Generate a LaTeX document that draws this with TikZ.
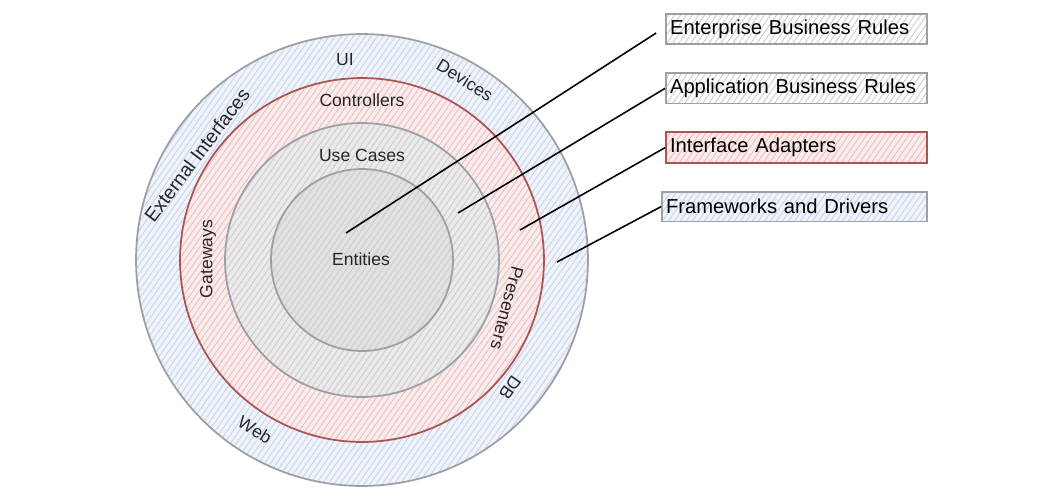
\documentclass[tikz,border=0pt]{standalone}
\usepackage{fontspec}
\setmainfont{Liberation Sans}
\usetikzlibrary{positioning,patterns.meta}
\definecolor{ringBlue}{RGB}{240,244,250}
\definecolor{hatchBlue}{RGB}{196,210,234}
\definecolor{ringRed}{RGB}{250,236,236}
\definecolor{hatchRed}{RGB}{236,188,188}
\definecolor{ringGray}{RGB}{236,234,234}
\definecolor{hatchGray}{RGB}{204,202,202}
\definecolor{coreGray}{RGB}{226,224,224}
\definecolor{edgeGray}{RGB}{156,160,165}
\definecolor{edgeRed}{RGB}{170,84,84}
\tikzset{
    hatch/.style={pattern={Lines[angle=55,distance=2.8pt,line width=0.5pt]}, pattern color=#1},
    ring/.style n args={3}{preaction={fill=#1}, preaction={hatch=#2}, draw=#3, line width=1pt},
    layerbox/.style n args={3}{ring={#1}{#2}{#3}, minimum width=5.22cm, minimum height=0.6cm,
        text width=5.06cm, inner xsep=0.08cm, align=left, font=\fontsize{11.5}{13}\selectfont},
    ringlabel/.style={font=\fontsize{10}{11}\selectfont, text=black!85, inner sep=1pt},
    pointer/.style={black, line width=0.9pt}
}
\begin{document}
\begin{tikzpicture}[x=0.02cm, y=-0.02cm, node distance=0.54cm]
    \useasboundingbox (0,0) rectangle (1064,498);
    % centre of the rings
    \coordinate (C) at (362,260);

    % rings, outside in
    \path[ring={ringBlue}{hatchBlue}{edgeGray}] (C) circle (4.52cm);
    \path[ring={ringRed}{hatchRed}{edgeRed}] (C) circle (3.64cm);
    \path[ring={ringGray}{hatchGray}{edgeGray}] (C) circle (2.74cm);
    \path[ring={coreGray}{hatchGray}{edgeGray}] (C) circle (1.82cm);

    % ring labels
    \node[ringlabel] (ui) at (345,60) {UI};
    \node[ringlabel, rotate=-32] (devices) at (465,80) {Devices};
    \node[ringlabel, rotate=53, font=\fontsize{11}{12}\selectfont] (extif) at (197,155) {External Interfaces};
    \node[ringlabel] (ctrl) at (362,100) {Controllers};
    \node[ringlabel] (usec) at (362,155) {Use Cases};
    \node[ringlabel] (ents) at (361,259) {Entities};
    \node[ringlabel, rotate=90] (gates) at (208,259) {Gateways};
    \node[ringlabel, rotate=-105] (pres) at (507,308) {Presenters};
    \node[ringlabel, rotate=-125] (db) at (510,388) {DB};
    \node[ringlabel, rotate=-32] (web) at (255,430) {Web};

    % legend boxes
    \node[layerbox={white}{hatchGray}{edgeGray}] (ebr) at (796.5,29) {Enterprise Business Rules};
    \node[layerbox={white}{hatchGray}{edgeGray}, below=of ebr] (abr) {Application Business Rules};
    \node[layerbox={ringRed}{hatchRed}{edgeRed}, below=of abr] (iad) {Interface Adapters};
    \node[layerbox={ringBlue}{hatchBlue}{edgeGray}, minimum width=5.3cm, text width=5.14cm,
        below=of iad.south east, anchor=north east] (fad) {Frameworks and Drivers};

    % pointers from the rings
    \coordinate (pEnt) at (346,233);
    \coordinate (pUse) at (458,213);
    \coordinate (pAdp) at (520,230);
    \coordinate (pFrw) at (557,262);
    \draw[pointer] (pEnt) -- ([xshift=-0.18cm, yshift=-0.08cm]ebr.west);
    \draw[pointer] (pUse) -- (abr.west);
    \draw[pointer] (pAdp) -- (iad.west);
    \draw[pointer] (pFrw) -- (fad.west);
\end{tikzpicture}
\end{document}
